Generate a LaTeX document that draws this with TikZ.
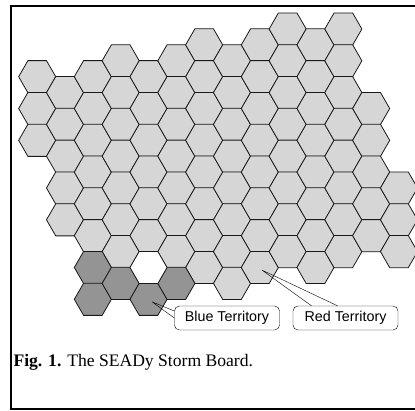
\documentclass[tikz,border=0pt]{standalone}
\usepackage{fontspec}
\setmainfont{Liberation Serif}
\newfontfamily\calloutfont{Liberation Sans}
\usetikzlibrary{shapes.geometric}
\definecolor{hexlight}{gray}{0.84}
\definecolor{hexdark}{gray}{0.58}

\begin{document}
\begin{tikzpicture}[x=1pt,y=-1pt]
        \tikzstyle{hex}=[regular polygon, regular polygon sides=6, draw=black!90, line width=0.8pt, minimum size=37.1pt, inner sep=0pt, outer sep=0pt, fill=hexlight]
        \tikzstyle{blue hex}=[hex, fill=hexdark]
        \tikzstyle{empty hex}=[hex, fill=white]
        \tikzstyle{callout}=[draw, rounded corners=5pt, fill=white, minimum width=105pt, minimum height=24pt, inner sep=0pt, font=\calloutfont\fontsize{14.3}{16}\selectfont]

        \useasboundingbox (0,0) rectangle (415,410);
        \draw[line width=2pt] (11,6) rectangle (420,408.5);

        % board: column / first row / last row
        \foreach \c/\a/\b in {0/3/7, 1/4/12, 2/3/13, 3/2/14, 4/3/13, 5/2/14, 6/1/15,
                              7/2/16, 8/1/15, 9/0/14, 10/1/15, 11/0/14, 12/5/13, 13/10/14} {
            \pgfmathtruncatemacro{\n}{\a+2}
            \foreach \r in {\a,\n,...,\b}
                \node[hex] (h\c-\r) at (37.2+27.83*\c, 29+15.9*\r) {};
        }

        % blue territory
        \foreach \c/\r in {2/15, 2/17, 3/16, 4/17, 5/16}
            \node[blue hex] (h\c-\r) at (37.2+27.83*\c, 29+15.9*\r) {};
        \node[empty hex] (h4-15) at (37.2+27.83*4, 29+15.9*15) {};

        \node[callout] (blue) at (227,318) {Blue Territory};
        \node[callout] (red) at (345.5,318) {Red Territory};

        \coordinate (blue tip) at ([shift={(3.5pt,-2.5pt)}]h4-17.center);
        \coordinate (red tip) at ([shift={(2pt,-2.5pt)}]h8-15.center);
        \draw (blue tip) -- ([yshift=7pt]blue.west) (blue tip) -- (blue.west);
        \draw (red tip) -- ([xshift=-34pt]red.north) (red tip) -- ([xshift=-8pt]red.north);

        \node[anchor=base west, inner sep=0pt, font=\fontsize{17.6}{20}\selectfont] (caption) at (13.3,366.7) {\textbf{Fig. 1.} The SEADy Storm Board.};
    \end{tikzpicture}
\end{document}
